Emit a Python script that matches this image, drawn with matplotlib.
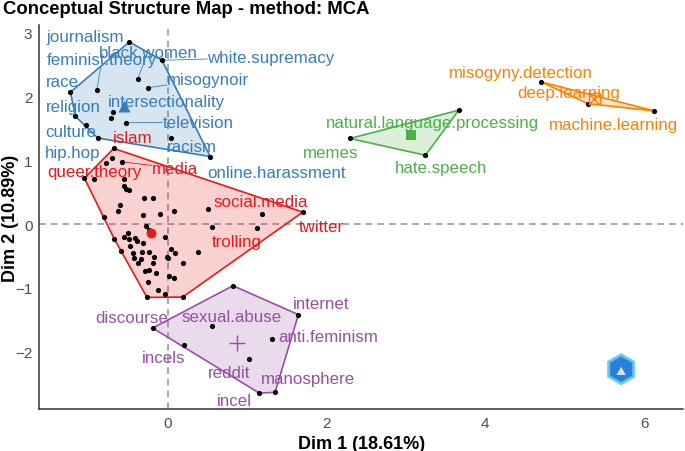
import numpy as np
import matplotlib
matplotlib.use("Agg")
import matplotlib.pyplot as plt
from matplotlib.patches import Polygon, RegularPolygon

plt.rcParams['font.family'] = ['Liberation Sans', 'DejaVu Sans']

# ---- data (Dim 1, Dim 2) ----
blue_x = [-0.487, -0.075, -0.381, -0.255, -0.897, -1.229, -0.696, -0.717,
          -1.166, -1.031, -0.528, -0.884, 0.038, 0.532]
blue_y = [2.857, 2.57, 2.28, 2.14, 2.10, 2.07, 1.76, 1.67,
          1.69, 1.56, 1.59, 1.35, 1.35, 1.06]
blue_words = ['journalism', 'white.supremacy', 'black.women', 'misogynoir',
              'feminist.theory', 'race', 'intersectionality', '',
              'religion', 'culture', 'television', 'hip.hop', 'racism',
              'online.harassment']

red_x = [-0.683, -0.78, -0.704, -0.583, -1.053, -0.927, -0.55, -0.55, -0.528,
         -0.494, -0.298, -0.185, -0.608, -0.633, -0.318, -0.104, 0.072, -0.809,
         0.499, 1.18, 1.70, 0.55, 1.12, -0.277, -0.239, -0.5, -0.56, -0.49,
         -0.42, -0.39, -0.675, -0.59, -0.474, -0.318, -0.034, 0.038, -0.017,
         0.088, 0.185, 0.377, -0.436, -0.43, -0.327, -0.34, -0.373, -0.17,
         -0.19, -0.235, -0.285, -0.243, -0.147, -0.004, 0.017, 0.08, -0.25,
         -0.12, -0.034, -0.264, 0.185]
red_y = [1.187, 0.956, 1.03, 0.977, 0.72, 0.71, 0.705, 0.59, 0.55,
         0.53, 0.41, 0.41, 0.30, 0.21, 0.146, 0.152, 0.21, 0.105,
         0.24, 0.157, 0.188, -0.05, -0.067, -0.036, -0.09, -0.14, -0.2, -0.235,
         -0.214, -0.27, -0.235, -0.42, -0.34, -0.30, -0.21, -0.39, -0.51,
         -0.45, -0.61, -0.43, -0.45, -0.53, -0.44, -0.55, -0.61, -0.51,
         -0.61, -0.43, -0.73, -0.72, -0.76, -0.53, -0.81, -0.85, -0.915,
         -1.03, -1.09, -1.15, -1.145]
red_words = ['islam', '', '', 'media', 'queer.theory'] + [''] * 13 + \
            ['social.media', '', 'twitter', 'trolling'] + [''] * 37

green_x = [3.665, 2.293, 3.245]
green_y = [1.787, 1.343, 1.08]
green_words = ['natural.language.processing', 'memes', 'hate.speech']

orange_x = [4.704, 5.29, 6.13]
orange_y = [2.23, 1.89, 1.776]
orange_words = ['misogyny.detection', 'deep.learning', 'machine.learning']

purple_x = [0.82, 1.644, -0.193, 0.56, 1.31, 0.197, 1.02, 1.15, 1.35]
purple_y = [-0.967, -1.42, -1.63, -1.60, -1.81, -1.89, -2.12, -2.65, -2.64]
purple_words = ['', 'internet', 'discourse', 'sexual.abuse', 'anti.feminism',
                'incels', 'reddit', 'incel', 'manosphere']

# where the repelled labels ended up (label centres, data units)
label_pos = {
    'journalism': (-1.044, 2.947), 'black.women': (-0.252, 2.696),
    'feminist.theory': (-0.830, 2.586), 'white.supremacy': (1.296, 2.618),
    'race': (-1.333, 2.241), 'misogynoir': (0.503, 2.273),
    'intersectionality': (-0.025, 1.928), 'religion': (-1.195, 1.85),
    'television': (0.377, 1.599), 'culture': (-1.220, 1.458),
    'racism': (0.302, 1.223), 'hip.hop': (-1.195, 1.129),
    'online.harassment': (1.371, 0.815),
    'islam': (-0.440, 1.364), 'queer.theory': (-0.931, 0.831),
    'media': (0.088, 0.878), 'social.media': (1.170, 0.361),
    'twitter': (1.937, -0.031), 'trolling': (0.868, -0.266),
    'internet': (1.925, -1.238), 'discourse': (-0.453, -1.458),
    'sexual.abuse': (0.805, -1.442), 'anti.feminism': (2.025, -1.771),
    'incels': (-0.050, -2.085), 'reddit': (0.767, -2.335),
    'manosphere': (1.761, -2.429), 'incel': (0.843, -2.774),
    'natural.language.processing': (3.333, 1.599), 'memes': (2.050, 1.129),
    'hate.speech': (3.447, 0.893),
    'misogyny.detection': (4.453, 2.382), 'deep.learning': (5.044, 2.069),
    'machine.learning': (5.610, 1.567),
}

clusters = [
    (red_x, red_y, red_words, '#E41A1C', 'o'),
    (blue_x, blue_y, blue_words, '#377EB8', '^'),
    (green_x, green_y, green_words, '#4DAF4A', 's'),
    (purple_x, purple_y, purple_words, '#984EA3', '+'),
    (orange_x, orange_y, orange_words, '#FF7F00', 'boxx'),
]


def hull(pts):
    pts = sorted(set(pts))
    if len(pts) < 3:
        return pts

    def cross(o, a, b):
        return (a[0] - o[0]) * (b[1] - o[1]) - (a[1] - o[1]) * (b[0] - o[0])
    lower, upper = [], []
    for p in pts:
        while len(lower) >= 2 and cross(lower[-2], lower[-1], p) <= 0:
            lower.pop()
        lower.append(p)
    for p in reversed(pts):
        while len(upper) >= 2 and cross(upper[-2], upper[-1], p) <= 0:
            upper.pop()
        upper.append(p)
    return lower[:-1] + upper[:-1]


fig = plt.figure(figsize=(6.85, 4.52), dpi=100)
ax = fig.add_axes([0.0575, 0.093, 0.9395, 0.849])

ax.axhline(0, color='#9a9a9a', ls=(0, (4, 3)), lw=1.2, zorder=0)
ax.axvline(0, color='#9a9a9a', ls=(0, (4, 3)), lw=1.2, zorder=0)

texts = []
for xs, ys, words, col, mk in clusters:
    h = hull(list(zip(xs, ys)))
    ax.add_patch(Polygon(h, closed=True, facecolor=col, alpha=0.2,
                         edgecolor='none', zorder=1))
    ax.add_patch(Polygon(h, closed=True, facecolor='none', edgecolor=col,
                         lw=1.2, zorder=2))
    ax.scatter(xs, ys, s=14, color='black', zorder=4, linewidths=0)
    cx, cy = np.mean(xs), np.mean(ys)
    if mk == 'boxx':
        ax.scatter(cx, cy, s=60, marker='s', facecolor='none', edgecolor=col,
                   linewidths=1, zorder=5)
        ax.scatter(cx, cy, s=45, marker='x', color=col, linewidths=1, zorder=5)
    elif mk == '+':
        ax.scatter(cx, cy, s=140, marker='+', color=col, linewidths=1, zorder=5)
    else:
        sz = {'o': 50, '^': 75, 's': 45}[mk]
        ax.scatter(cx, cy, s=sz, marker=mk, color=col, linewidths=0, zorder=5)
    for x, y, w in zip(xs, ys, words):
        if w == '':
            continue
        lx, ly = label_pos[w]
        t = ax.text(lx, ly, w, color=col, fontsize=12.2, ha='center',
                    va='center', zorder=6)
        texts.append((t, x, y, col))

ax.set_xlim(-1.62, 6.49)
ax.set_ylim(-2.90, 3.12)
ax.set_xticks([0, 2, 4, 6])
ax.set_yticks([-2, -1, 0, 1, 2, 3])
ax.tick_params(length=0, labelsize=11, labelcolor='#4D4D4D', pad=5)
for s in ['top', 'right']:
    ax.spines[s].set_visible(False)
for s in ['left', 'bottom']:
    ax.spines[s].set_color('#333333')
    ax.spines[s].set_linewidth(1.1)
ax.set_xlabel('Dim 1 (18.61%)', fontsize=13, fontweight='bold', labelpad=4)
ax.set_ylabel('Dim 2 (10.89%)', fontsize=13, fontweight='bold', va='center')
ax.yaxis.set_label_coords(-0.045, 0.5)
fig.text(0.004, 0.978, 'Conceptual Structure Map - method: MCA', fontsize=13.3,
         fontweight='bold', ha='left', va='center')

# segments from label box to point, when the label sits far off
fig.canvas.draw()
r = fig.canvas.get_renderer()
inv = ax.transData.inverted()
for t, x, y, col in texts:
    bb = t.get_window_extent(r)
    px, py = ax.transData.transform((x, y))
    qx = min(max(px, bb.x0), bb.x1)
    qy = min(max(py, bb.y0), bb.y1)
    if np.hypot(px - qx, py - qy) > 9:
        cxp, cyp = (bb.x0 + bb.x1) / 2, (bb.y0 + bb.y1) / 2
        # clip the centre->point line at the text box
        dx, dy = px - cxp, py - cyp
        f = min(abs((bb.width / 2) / dx) if dx else 1e9,
                abs((bb.height / 2) / dy) if dy else 1e9)
        sx, sy = cxp + dx * f, cyp + dy * f
        a = inv.transform((sx, sy))
        ax.plot([a[0], x], [a[1], y], color=col, lw=0.6, zorder=3)

# little logo bottom right
lax = fig.add_axes([0.882, 0.139, 0.0496, 0.084])
lax.set_xlim(-1.1, 1.1)
lax.set_ylim(-1.1, 1.1)
lax.set_aspect('equal')
lax.axis('off')
lax.add_patch(RegularPolygon((0, 0), 6, radius=1.0, facecolor='#5cc0f5',
                             edgecolor='#7fd0fa', lw=1))
lax.add_patch(RegularPolygon((0, 0), 6, radius=0.82, facecolor='#2a7fd8',
                             edgecolor='none'))
lax.add_patch(RegularPolygon((0, -0.2), 3, radius=0.35, facecolor='white',
                             edgecolor='none', alpha=0.8))

fig.savefig('out.png', dpi=100)
